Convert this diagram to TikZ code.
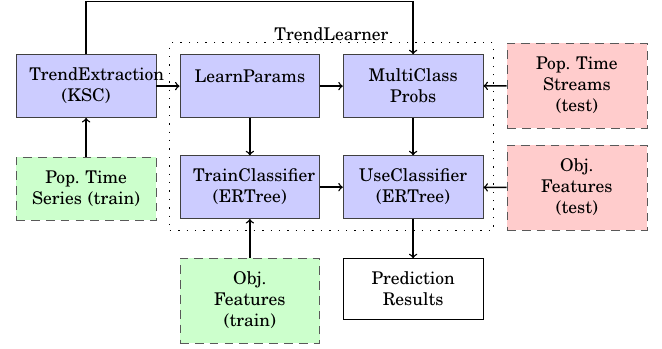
\documentclass[tikz,border=0pt]{standalone}
\usepackage[T1]{fontenc}
\usepackage{newcent}
\usetikzlibrary{fit,calc}
\begin{document}
\begin{tikzpicture}[>=to]
    \tikzset{%
      box/.style={rectangle, align=center, text width=65pt, inner xsep=7.5pt,
        inner ysep=1pt, minimum width=80pt, minimum height=36pt},
      proc/.style={box, draw=black!75, fill=blue!20},
      trainin/.style={box, draw=black!65, dash pattern=on 5pt off 3.5pt,
        fill=green!20},
      testin/.style={box, draw=black!65, dash pattern=on 5pt off 3.5pt,
        fill=red!20, minimum height=48.5pt},
      result/.style={box, draw, minimum height=35pt},
      flow/.style={->, thick},
    }
    \useasboundingbox (0,0) rectangle (13.3,-7.01);
    % processing steps
    \node[proc] (TE) at (1.73,-1.73) {TrendExtraction\\(KSC)};
    \node[proc] (LP) at (5.02,-1.73) {LearnParams\\~};
    \node[proc] (MC) at (8.30,-1.73) {MultiClass\\Probs};
    \node[proc] (TC) at (5.02,-3.76) {TrainClassifier\\(ERTree)};
    \node[proc] (UC) at (8.30,-3.76) {UseClassifier\\(ERTree)};
    % inputs
    \node[trainin] (PSE) at (1.73,-3.79) {Pop.\ Time\\Series (train)};
    \node[trainin, minimum height=48.5pt] (OFR) at (5.02,-6.04) {Obj.\\Features\\(train)};
    \node[testin] (PTS) at (11.59,-1.72) {Pop.\ Time\\Streams\\(test)};
    \node[testin] (OFT) at (11.59,-3.77) {Obj.\\Features\\(test)};
    % output
    \node[result] (PR) at (8.30,-5.81) {Prediction\\Results};

    \node[draw, loosely dotted, thick, inner xsep=5.6pt, inner ysep=6.6pt,
      fit=(LP)(MC)(TC)(UC)] (TL) {};
    \node[anchor=base, inner sep=0pt] (TLlabel) at ($(TL.north)+(0,0.03)$) {TrendLearner};

    \coordinate (top) at (0,-0.03);
    \draw [flow] (TE.north) -- (TE.north |- top) -| (MC.north);
    \draw [flow] (PSE) -- (TE);
    \draw [flow] (TE) -- (LP);
    \draw [flow] (LP) -- (MC);
    \draw [flow] (PTS) -- (MC);
    \draw [flow] (LP) -- (TC);
    \draw [flow] (MC) -- (UC);
    \draw [flow] (TC) -- (UC);
    \draw [flow] (OFT) -- (UC);
    \draw [flow] (OFR) -- (TC);
    \draw [flow] (UC) -- (PR);
\end{tikzpicture}
\end{document}
